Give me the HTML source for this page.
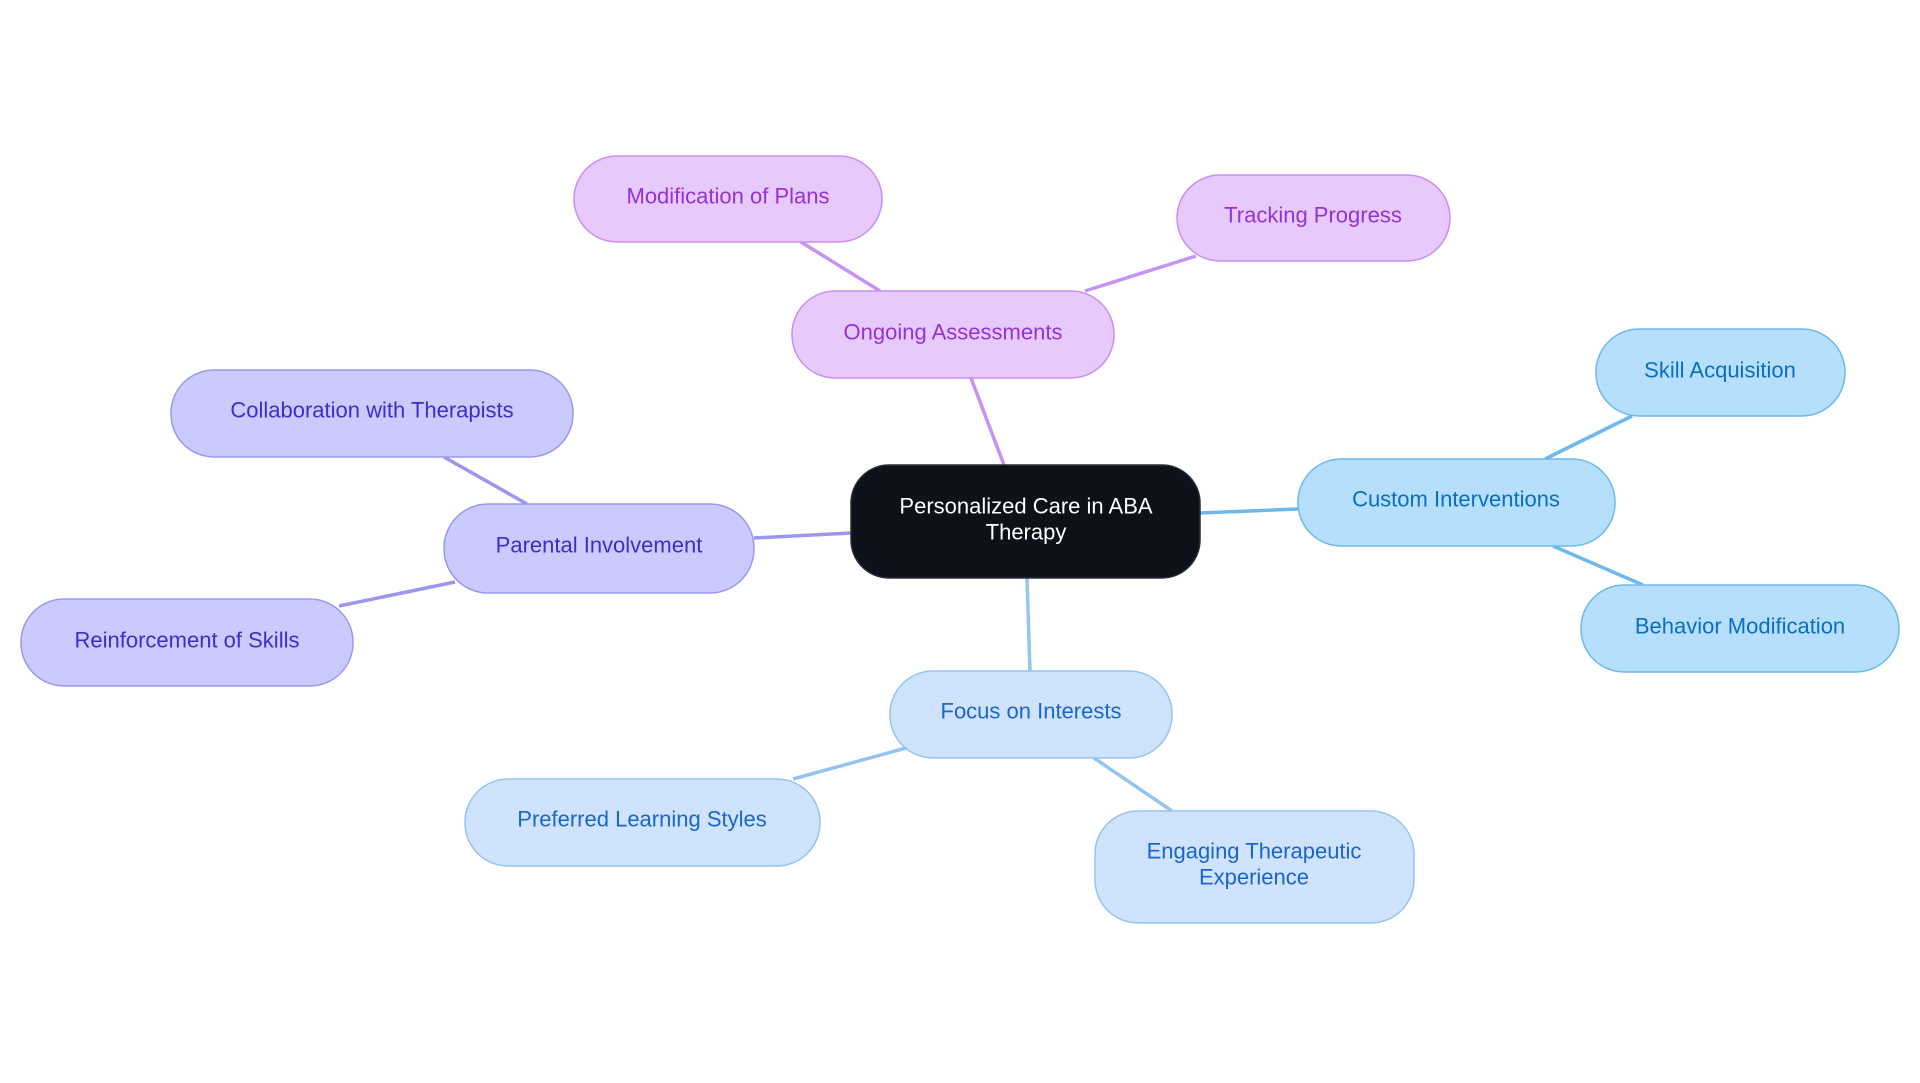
<!DOCTYPE html>
<html><head><meta charset="utf-8"><style>
html,body{margin:0;padding:0;background:#fff;width:1920px;height:1083px;overflow:hidden}
text{font-family:"Liberation Sans",sans-serif;font-size:22px;text-anchor:middle;dominant-baseline:central}
</style></head><body>
<svg width="1920" height="1083" viewBox="0 0 1920 1083" xmlns="http://www.w3.org/2000/svg">
<g stroke-width="3.5" fill="none">
<line x1="1004" y1="465" x2="971" y2="378" stroke="#c792f4"/>
<line x1="880" y1="291" x2="801" y2="242" stroke="#c792f4"/>
<line x1="1085" y1="291" x2="1196" y2="256" stroke="#c792f4"/>
<line x1="1200" y1="513" x2="1298" y2="509" stroke="#6db9ee"/>
<line x1="1545" y1="459" x2="1632" y2="416" stroke="#6db9ee"/>
<line x1="1553" y1="546" x2="1643" y2="585" stroke="#6db9ee"/>
<line x1="1027" y1="578" x2="1030" y2="671" stroke="#96c3f0"/>
<line x1="906" y1="748" x2="793" y2="779" stroke="#96c3f0"/>
<line x1="1094" y1="758" x2="1172" y2="811" stroke="#96c3f0"/>
<line x1="851" y1="533" x2="754" y2="538" stroke="#9b97f0"/>
<line x1="527" y1="504" x2="444" y2="457" stroke="#9b97f0"/>
<line x1="455" y1="582" x2="339" y2="606" stroke="#9b97f0"/>
</g>
<g stroke-width="1.5">
<rect x="851" y="465" width="349" height="113" rx="38" fill="#0c111a" stroke="#2a2f38"/>
<g fill="#e8c9fc" stroke="#c98ef0">
<rect x="792" y="291" width="322" height="87" rx="43"/>
<rect x="574" y="156" width="308" height="86" rx="43"/>
<rect x="1177" y="175" width="273" height="86" rx="43"/>
</g>
<g fill="#b5dffc" stroke="#6db9ee">
<rect x="1298" y="459" width="317" height="87" rx="43"/>
<rect x="1596" y="329" width="249" height="87" rx="43"/>
<rect x="1581" y="585" width="318" height="87" rx="43"/>
</g>
<g fill="#cfe3fc" stroke="#96c3f0">
<rect x="890" y="671" width="282" height="87" rx="43"/>
<rect x="465" y="779" width="355" height="87" rx="43"/>
<rect x="1095" y="811" width="319" height="112" rx="43"/>
</g>
<g fill="#cbcafd" stroke="#9b97f0">
<rect x="444" y="504" width="310" height="89" rx="44"/>
<rect x="171" y="370" width="402" height="87" rx="43"/>
<rect x="21" y="599" width="332" height="87" rx="43"/>
</g>
</g>
<text x="1026" y="506" fill="#ffffff">Personalized Care in ABA</text>
<text x="1026" y="532" fill="#ffffff">Therapy</text>
<g fill="#9333d6">
<text x="953" y="332">Ongoing Assessments</text>
<text x="728" y="196">Modification of Plans</text>
<text x="1313" y="215">Tracking Progress</text>
</g>
<g fill="#0a6fc2">
<text x="1456" y="499">Custom Interventions</text>
<text x="1720" y="370">Skill Acquisition</text>
<text x="1740" y="626">Behavior Modification</text>
</g>
<g fill="#1a66cc">
<text x="1031" y="711">Focus on Interests</text>
<text x="642" y="819">Preferred Learning Styles</text>
<text x="1254" y="851">Engaging Therapeutic</text>
<text x="1254" y="877">Experience</text>
</g>
<g fill="#3b2fc9">
<text x="599" y="545">Parental Involvement</text>
<text x="372" y="410">Collaboration with Therapists</text>
<text x="187" y="640">Reinforcement of Skills</text>
</g>
</svg>
</body></html>
